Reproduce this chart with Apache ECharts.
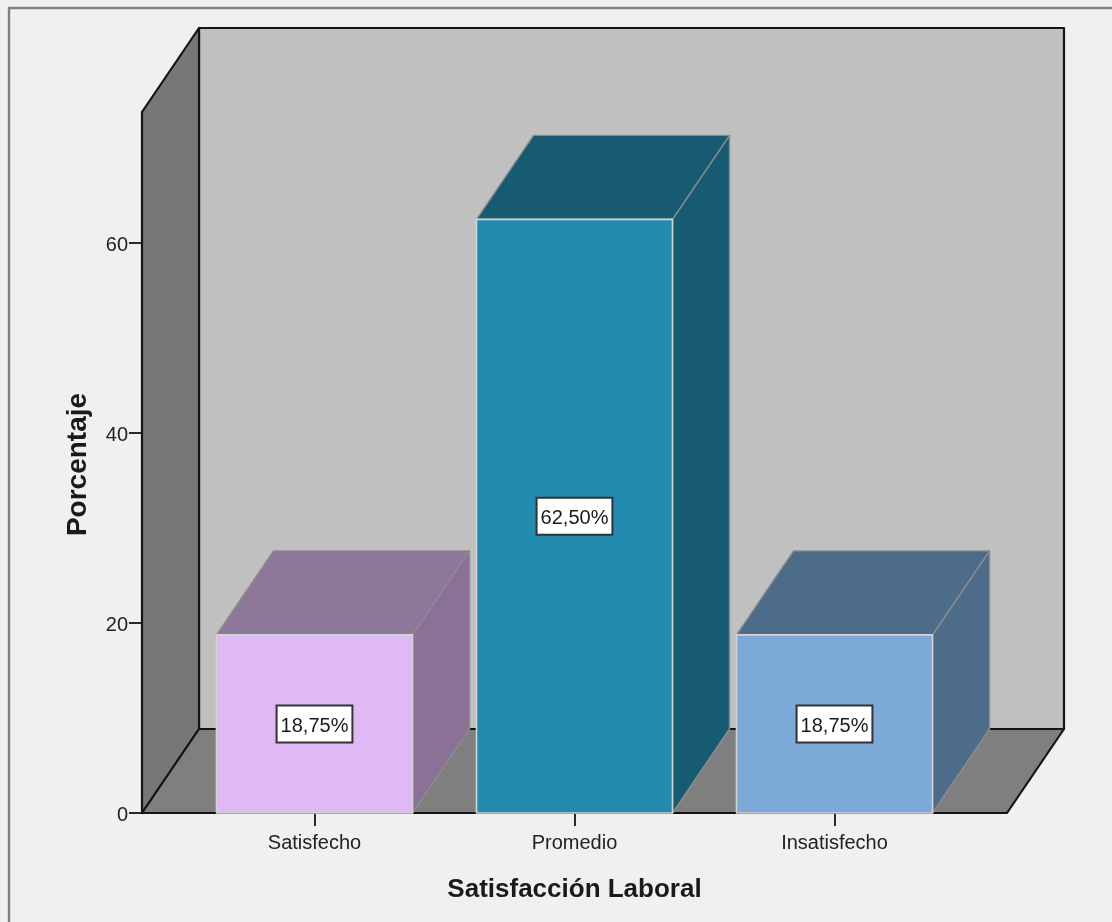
<!DOCTYPE html>
<html>
<head>
<meta charset="utf-8">
<style>html,body{margin:0;padding:0;background:#f0f0f0;overflow:hidden}#chart{width:1112px;height:922px}</style>
<script src="https://cdn.jsdelivr.net/npm/echarts@6/dist/echarts.min.js"></script>
</head>
<body>
<div id="chart"></div>
<script>
// Satisfacción Laboral: porcentaje por categoría
const categories = ['Satisfecho', 'Promedio', 'Insatisfecho'];
const percentages = [18.75, 62.5, 18.75];
const yTicks = [0, 20, 40, 60];
const yMax = 73.8;

const FONT = '"Liberation Sans", Arial, sans-serif';
// Oblique depth of the box, in pixels
const DX = 57, DY = -84;
// How far the floor extends past the outer category bands
const PAD = 42.5;
const BAR_W = 196;
const palette = [
  { face: '#dfb9f3', top: '#8e7899', side: '#8a7195' },
  { face: '#238bb0', top: '#175b72', side: '#175b72' },
  { face: '#7ba9d8', top: '#4d6c8a', side: '#4d6c8a' }
];

function poly(points, fill, stroke, lineWidth) {
  return { type: 'polygon', shape: { points }, style: { fill, stroke, lineWidth, lineJoin: 'round' } };
}

// Side wall, back wall and floor of the 3D frame
function renderWalls(params, api) {
  const cs = params.coordSys;
  const l = cs.x - PAD, r = cs.x + cs.width + PAD;
  const b = api.coord([0, 0])[1], t = api.coord([0, yMax])[1];
  const ink = '#141414', lw = 2.2;
  return {
    type: 'group',
    children: [
      poly([[l + DX, t + DY], [r + DX, t + DY], [r + DX, b + DY], [l + DX, b + DY]], '#c0c0c0', ink, lw),
      poly([[l, t], [l + DX, t + DY], [l + DX, b + DY], [l, b]], '#777777', ink, lw),
      poly([[l, b], [l + DX, b + DY], [r + DX, b + DY], [r, b]], '#7f7f7f', ink, lw)
    ]
  };
}

// One extruded bar with its boxed value label
function renderBar(params, api) {
  const i = api.value(0), v = api.value(1);
  const c = palette[params.dataIndex];
  const cx = api.coord([i, 0])[0];
  const y0 = api.coord([i, 0])[1], y1 = api.coord([i, v])[1];
  const xa = cx - BAR_W / 2, xb = cx + BAR_W / 2;
  const edge = '#8c8c8c', lightEdge = '#d4d4d4';
  return {
    type: 'group',
    children: [
      poly([[xb, y0], [xb + DX, y0 + DY], [xb + DX, y1 + DY], [xb, y1]], c.side, edge, 1.4),
      poly([[xa, y1], [xa + DX, y1 + DY], [xb + DX, y1 + DY], [xb, y1]], c.top, edge, 1.4),
      poly([[xa, y0], [xb, y0], [xb, y1], [xa, y1]], c.face, lightEdge, 1.6),
      {
        type: 'text',
        x: cx,
        y: api.coord([i, v / 2])[1],
        style: {
          text: '{v|' + v.toFixed(2).replace('.', ',') + '%}',
          rich: { v: { font: '20px ' + FONT, fill: '#1a1a1a', padding: [4, 0, 0, 0] } },
          font: '20px ' + FONT,
          fill: '#1a1a1a',
          align: 'center',
          verticalAlign: 'middle',
          backgroundColor: '#ffffff',
          borderColor: '#333333',
          borderWidth: 2,
          padding: [6, 3, 5, 3]
        }
      }
    ]
  };
}

const chart = echarts.init(document.getElementById('chart'), null, { renderer: 'canvas' });
chart.setOption({
  animation: false,
  backgroundColor: '#f0f0f0',
  grid: { left: 184.5, top: 112, width: 780, height: 701, containLabel: false },
  xAxis: {
    type: 'category',
    data: categories,
    axisLine: { show: false },
    axisTick: { show: true, alignWithLabel: true, length: 13, lineStyle: { color: '#2a2a2a', width: 2 } },
    axisLabel: { margin: 20, fontFamily: FONT, fontSize: 20, color: '#222222' },
    name: 'Satisfacción Laboral',
    nameLocation: 'middle',
    nameGap: 64,
    nameTextStyle: { fontFamily: FONT, fontSize: 26, fontWeight: 'bold', color: '#1a1a1a' }
  },
  yAxis: {
    type: 'value',
    min: 0,
    max: yMax,
    offset: PAD,
    splitLine: { show: false },
    axisLine: { show: true, lineStyle: { color: '#141414', width: 2 } },
    axisTick: { show: true, length: 13, customValues: yTicks, lineStyle: { color: '#2a2a2a', width: 2 } },
    axisLabel: {
      customValues: yTicks,
      margin: 14,
      formatter: '{v|{value}}',
      rich: { v: { fontFamily: FONT, fontSize: 20, color: '#222222', padding: [5, 0, 0, 0] } }
    },
    name: 'Porcentaje',
    nameLocation: 'middle',
    nameGap: 50,
    nameTextStyle: { fontFamily: FONT, fontSize: 28, fontWeight: 'bold', color: '#1a1a1a', padding: [0, 4, 0, 0] }
  },
  graphic: [{
    type: 'polyline',
    silent: true,
    shape: { points: [[9, 922], [9, 8], [1112, 8]] },
    style: { fill: null, stroke: '#808080', lineWidth: 2.4 }
  }],
  series: [
    {
      type: 'custom',
      z: 1,
      clip: false,
      silent: true,
      renderItem: renderWalls,
      data: [[0, 0]]
    },
    {
      type: 'custom',
      z: 3,
      clip: false,
      renderItem: renderBar,
      encode: { x: 0, y: 1 },
      data: percentages.map((v, i) => [i, v])
    }
  ]
});
</script>
</body>
</html>
